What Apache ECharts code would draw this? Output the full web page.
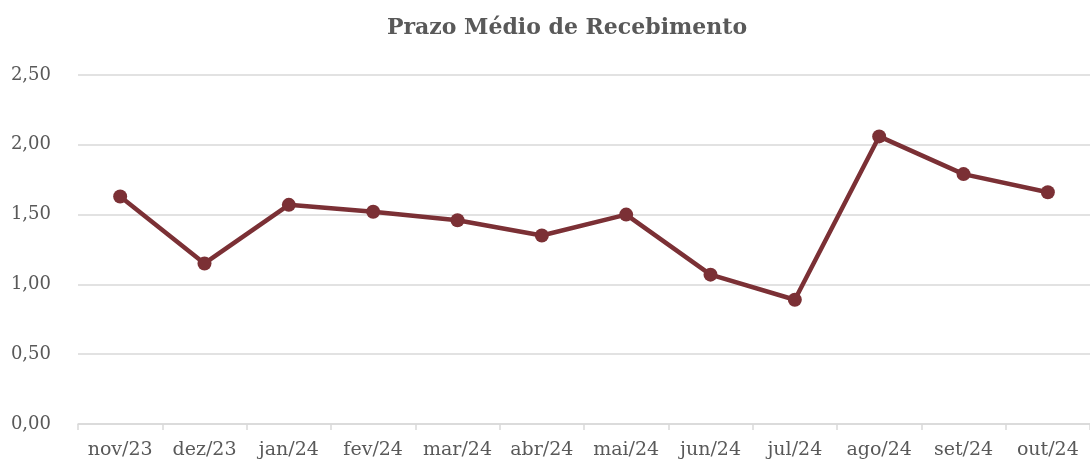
<!DOCTYPE html>
<html>
<head>
<meta charset="utf-8">
<script src="https://cdn.jsdelivr.net/npm/echarts@6/dist/echarts.min.js"></script>
<style>
  html, body { margin: 0; padding: 0; background: #fff; }
  #main { width: 1090px; height: 463px; }
</style>
</head>
<body>
<div id="main"></div>
<script>
const categories = ['nov/23', 'dez/23', 'jan/24', 'fev/24', 'mar/24', 'abr/24',
    'mai/24', 'jun/24', 'jul/24', 'ago/24', 'set/24', 'out/24'];
const prazoMedio = [1.63, 1.15, 1.57, 1.52, 1.46, 1.35, 1.50, 1.07, 0.89, 2.06, 1.79, 1.66];

const chart = echarts.init(document.getElementById('main'));
const font = '"DejaVu Serif", "Liberation Serif", serif';

const option = {
    animation: false,
    title: {
        text: 'Prazo Médio de Recebimento',
        left: 562,
        top: 12,
        textAlign: 'center',
        textStyle: {
            fontFamily: font,
            fontSize: 22,
            fontWeight: 'bold',
            color: '#595959'
        }
    },
    grid: {
        left: 78,
        right: 0,
        top: 75,
        bottom: 39,
        containLabel: false
    },
    xAxis: {
        type: 'category',
        data: categories,
        boundaryGap: true,
        axisLine: { lineStyle: { color: '#d9d9d9', width: 1.5 } },
        axisTick: { show: true, length: 6, lineStyle: { color: '#d9d9d9', width: 1.5 } },
        axisLabel: {
            fontFamily: font,
            fontSize: 19,
            color: '#595959',
            margin: 17,
            interval: 0
        }
    },
    yAxis: {
        type: 'value',
        min: 0,
        max: 2.5,
        interval: 0.5,
        axisLine: { show: false },
        axisTick: { show: false },
        splitLine: { lineStyle: { color: '#d9d9d9', width: 1.5 } },
        axisLabel: {
            fontFamily: font,
            fontSize: 18,
            color: '#595959',
            margin: 27,
            formatter: v => v.toFixed(2).replace('.', ',')
        }
    },
    series: [{
        type: 'line',
        data: prazoMedio,
        symbol: 'circle',
        symbolSize: 14,
        lineStyle: { color: '#7b3035', width: 4.5 },
        itemStyle: { color: '#7b3035' }
    }]
};

chart.setOption(option);
window.onresize = () => chart.resize();
</script>
</body>
</html>
